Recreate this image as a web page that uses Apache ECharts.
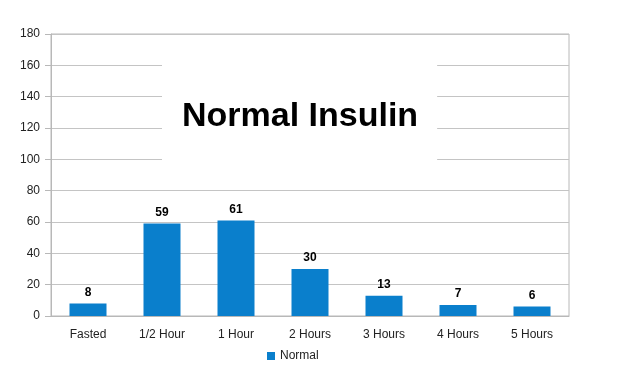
<!DOCTYPE html>
<html>
<head>
<meta charset="utf-8">
<script src="https://cdn.jsdelivr.net/npm/echarts@6/dist/echarts.min.js"></script>
<style>html,body{margin:0;padding:0;background:#fff;}#c{width:619px;height:382px;}</style>
</head>
<body>
<div id="c"></div>
<script>
const categories = ['Fasted', '1/2 Hour', '1 Hour', '2 Hours', '3 Hours', '4 Hours', '5 Hours'];
const normalValues = [8, 59, 61, 30, 13, 7, 6];
const yTicks = [0, 20, 40, 60, 80, 100, 120, 140, 160, 180];

const chart = echarts.init(document.getElementById('c'), null, {renderer: 'canvas'});
const font = '"Liberation Sans", Arial, sans-serif';
chart.setOption({
  animation: false,
  backgroundColor: '#fff',
  title: {
    text: 'Normal Insulin',
    left: 162,
    top: 63,
    padding: [34, 19, 32, 20],
    backgroundColor: '#fff',
    textStyle: {fontFamily: font, fontSize: 34, fontWeight: 'bold', color: '#000', lineHeight: 40}
  },
  legend: {
    data: ['Normal'],
    top: 345,
    left: 262,
    itemWidth: 8,
    itemHeight: 8,
    icon: 'rect',
    textStyle: {fontFamily: font, fontSize: 12, color: '#222'}
  },
  grid: {
    left: 51, right: 50, top: 34, bottom: 66,
    show: true, borderColor: '#b8b8b8', borderWidth: 1, backgroundColor: 'transparent'
  },
  xAxis: {
    type: 'category',
    data: categories,
    axisLine: {lineStyle: {color: '#b8b8b8'}},
    axisTick: {length: 6, lineStyle: {color: '#b8b8b8'}},
    axisLabel: {fontFamily: font, fontSize: 12, color: '#222', margin: 13}
  },
  yAxis: {
    type: 'value',
    min: yTicks[0],
    max: yTicks[yTicks.length - 1],
    interval: 20,
    axisLine: {show: true, lineStyle: {color: '#b8b8b8'}},
    axisTick: {show: true, length: 6, lineStyle: {color: '#b8b8b8'}},
    splitLine: {lineStyle: {color: '#c4c4c4'}},
    axisLabel: {fontFamily: font, fontSize: 12, color: '#222', margin: 11}
  },
  series: [{
    name: 'Normal',
    type: 'bar',
    data: normalValues,
    barWidth: '50%',
    itemStyle: {color: '#0a7fcc'},
    label: {show: true, position: 'top', distance: 5, fontFamily: font, fontSize: 12, fontWeight: 'bold', color: '#000'}
  }]
});
</script>
</body>
</html>
